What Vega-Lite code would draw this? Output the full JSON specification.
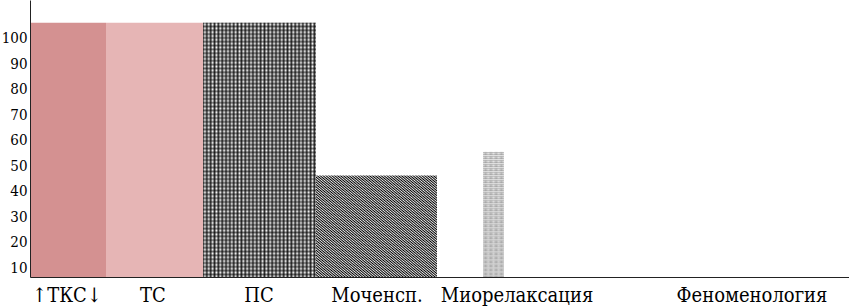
{
"$schema": "https://vega.github.io/schema/vega-lite/v6.json",
"width": 819, "height": 277, "autosize": "none",
"padding": {"left": 30, "top": 0, "right": 0, "bottom": 29},
"background": "white",
"config": {"view": {"stroke": null}},
"data": {"values": [
 {"name": "↑ТКС↓", "value": 106, "start": 1, "end": 76, "labelPos": 37},
 {"name": "ТС", "value": 106, "start": 76, "end": 173, "labelPos": 123},
 {"name": "ПС", "value": 106, "start": 173, "end": 286, "labelPos": 229},
 {"name": "Моченсп.", "value": 46, "start": 286, "end": 407, "labelPos": 347},
 {"name": "Миорелаксация", "value": 55.3, "start": 453, "end": 474, "labelPos": 487},
 {"name": "Феноменология", "value": 0, "start": 700, "end": 700, "labelPos": 722}
]},
"layer": [
{"encoding": {
 "x": {"field": "start", "type": "quantitative", "scale": {"domain": [0, 819], "nice": false, "zero": false, "padding": 0}, "axis": {"labels": false, "ticks": false, "grid": false, "title": null, "domainColor": "#222", "domainWidth": 1}},
 "x2": {"field": "end"},
 "y": {"field": "value", "type": "quantitative", "scale": {"domain": [6.1, 114.9], "nice": false, "zero": false, "clamp": true}, "axis": {"values": [10, 20, 30, 40, 50, 60, 70, 80, 90, 100], "ticks": false, "grid": false, "title": null, "domainColor": "#222", "domainWidth": 1, "labelFont": "DejaVu Serif Condensed, DejaVu Serif", "labelFontSize": 15, "labelColor": "#000", "labelPadding": 3}}
},
"layer": [
 {"transform": [{"filter": {"field": "name", "oneOf": ["↑ТКС↓", "ТС"]}}],
  "mark": {"type": "bar", "orient": "vertical", "stroke": null},
  "encoding": {"color": {"field": "name", "type": "nominal", "scale": {"domain": ["↑ТКС↓", "ТС"], "range": ["#d49191", "#e6b5b5"]}, "legend": null}}},
 {"transform": [{"filter": {"field": "name", "equal": "ПС"}}],
  "mark": {"type": "bar", "orient": "vertical", "stroke": null, "fill": {"gradient": "linear", "x1": 0, "y1": 0, "x2": 1, "y2": 0, "stops": [
   {"offset":0,"color":"#333"},{"offset":0.017,"color":"#fff"},{"offset":0.034,"color":"#333"},{"offset":0.051,"color":"#fff"},{"offset":0.068,"color":"#333"},{"offset":0.085,"color":"#fff"},{"offset":0.102,"color":"#333"},{"offset":0.119,"color":"#fff"},{"offset":0.136,"color":"#333"},{"offset":0.153,"color":"#fff"},{"offset":0.17,"color":"#333"},{"offset":0.187,"color":"#fff"},{"offset":0.204,"color":"#333"},{"offset":0.221,"color":"#fff"},{"offset":0.238,"color":"#333"},{"offset":0.255,"color":"#fff"},{"offset":0.272,"color":"#333"},{"offset":0.289,"color":"#fff"},{"offset":0.306,"color":"#333"},{"offset":0.323,"color":"#fff"},{"offset":0.34,"color":"#333"},{"offset":0.357,"color":"#fff"},{"offset":0.374,"color":"#333"},{"offset":0.391,"color":"#fff"},{"offset":0.408,"color":"#333"},{"offset":0.425,"color":"#fff"},{"offset":0.442,"color":"#333"},{"offset":0.459,"color":"#fff"},{"offset":0.476,"color":"#333"},{"offset":0.493,"color":"#fff"},{"offset":0.51,"color":"#333"},{"offset":0.527,"color":"#fff"},{"offset":0.544,"color":"#333"},{"offset":0.561,"color":"#fff"},{"offset":0.578,"color":"#333"},{"offset":0.595,"color":"#fff"},{"offset":0.612,"color":"#333"},{"offset":0.629,"color":"#fff"},{"offset":0.646,"color":"#333"},{"offset":0.663,"color":"#fff"},{"offset":0.68,"color":"#333"},{"offset":0.697,"color":"#fff"},{"offset":0.714,"color":"#333"},{"offset":0.731,"color":"#fff"},{"offset":0.748,"color":"#333"},{"offset":0.765,"color":"#fff"},{"offset":0.782,"color":"#333"},{"offset":0.799,"color":"#fff"},{"offset":0.816,"color":"#333"},{"offset":0.833,"color":"#fff"},{"offset":0.85,"color":"#333"},{"offset":0.867,"color":"#fff"},{"offset":0.884,"color":"#333"},{"offset":0.901,"color":"#fff"},{"offset":0.918,"color":"#333"},{"offset":0.935,"color":"#fff"},{"offset":0.952,"color":"#333"},{"offset":0.969,"color":"#fff"},{"offset":0.986,"color":"#333"},{"offset":1,"color":"#fff"}
  ]}}},
 {"transform": [{"filter": {"field": "name", "equal": "ПС"}}],
  "mark": {"type": "bar", "orient": "vertical", "stroke": null, "fill": {"gradient": "linear", "x1": 0, "y1": 0, "x2": 0, "y2": 1, "stops": [
   {"offset":0,"color":"rgba(0,0,0,0.55)"},{"offset":0.0075,"color":"transparent"},{"offset":0.015,"color":"rgba(0,0,0,0.55)"},{"offset":0.0225,"color":"transparent"},{"offset":0.03,"color":"rgba(0,0,0,0.55)"},{"offset":0.0375,"color":"transparent"},{"offset":0.045,"color":"rgba(0,0,0,0.55)"},{"offset":0.0525,"color":"transparent"},{"offset":0.06,"color":"rgba(0,0,0,0.55)"},{"offset":0.0675,"color":"transparent"},{"offset":0.075,"color":"rgba(0,0,0,0.55)"},{"offset":0.0825,"color":"transparent"},{"offset":0.09,"color":"rgba(0,0,0,0.55)"},{"offset":0.0975,"color":"transparent"},{"offset":0.105,"color":"rgba(0,0,0,0.55)"},{"offset":0.1125,"color":"transparent"},{"offset":0.12,"color":"rgba(0,0,0,0.55)"},{"offset":0.1275,"color":"transparent"},{"offset":0.135,"color":"rgba(0,0,0,0.55)"},{"offset":0.1425,"color":"transparent"},{"offset":0.15,"color":"rgba(0,0,0,0.55)"},{"offset":0.1575,"color":"transparent"},{"offset":0.165,"color":"rgba(0,0,0,0.55)"},{"offset":0.1725,"color":"transparent"},{"offset":0.18,"color":"rgba(0,0,0,0.55)"},{"offset":0.1875,"color":"transparent"},{"offset":0.195,"color":"rgba(0,0,0,0.55)"},{"offset":0.2025,"color":"transparent"},{"offset":0.21,"color":"rgba(0,0,0,0.55)"},{"offset":0.2175,"color":"transparent"},{"offset":0.225,"color":"rgba(0,0,0,0.55)"},{"offset":0.2325,"color":"transparent"},{"offset":0.24,"color":"rgba(0,0,0,0.55)"},{"offset":0.2475,"color":"transparent"},{"offset":0.255,"color":"rgba(0,0,0,0.55)"},{"offset":0.2625,"color":"transparent"},{"offset":0.27,"color":"rgba(0,0,0,0.55)"},{"offset":0.2775,"color":"transparent"},{"offset":0.285,"color":"rgba(0,0,0,0.55)"},{"offset":0.2925,"color":"transparent"},{"offset":0.3,"color":"rgba(0,0,0,0.55)"},{"offset":0.3075,"color":"transparent"},{"offset":0.315,"color":"rgba(0,0,0,0.55)"},{"offset":0.3225,"color":"transparent"},{"offset":0.33,"color":"rgba(0,0,0,0.55)"},{"offset":0.3375,"color":"transparent"},{"offset":0.345,"color":"rgba(0,0,0,0.55)"},{"offset":0.3525,"color":"transparent"},{"offset":0.36,"color":"rgba(0,0,0,0.55)"},{"offset":0.3675,"color":"transparent"},{"offset":0.375,"color":"rgba(0,0,0,0.55)"},{"offset":0.3825,"color":"transparent"},{"offset":0.39,"color":"rgba(0,0,0,0.55)"},{"offset":0.3975,"color":"transparent"},{"offset":0.405,"color":"rgba(0,0,0,0.55)"},{"offset":0.4125,"color":"transparent"},{"offset":0.42,"color":"rgba(0,0,0,0.55)"},{"offset":0.4275,"color":"transparent"},{"offset":0.435,"color":"rgba(0,0,0,0.55)"},{"offset":0.4425,"color":"transparent"},{"offset":0.45,"color":"rgba(0,0,0,0.55)"},{"offset":0.4575,"color":"transparent"},{"offset":0.465,"color":"rgba(0,0,0,0.55)"},{"offset":0.4725,"color":"transparent"},{"offset":0.48,"color":"rgba(0,0,0,0.55)"},{"offset":0.4875,"color":"transparent"},{"offset":0.495,"color":"rgba(0,0,0,0.55)"},{"offset":0.5025,"color":"transparent"},{"offset":0.51,"color":"rgba(0,0,0,0.55)"},{"offset":0.5175,"color":"transparent"},{"offset":0.525,"color":"rgba(0,0,0,0.55)"},{"offset":0.5325,"color":"transparent"},{"offset":0.54,"color":"rgba(0,0,0,0.55)"},{"offset":0.5475,"color":"transparent"},{"offset":0.555,"color":"rgba(0,0,0,0.55)"},{"offset":0.5625,"color":"transparent"},{"offset":0.57,"color":"rgba(0,0,0,0.55)"},{"offset":0.5775,"color":"transparent"},{"offset":0.585,"color":"rgba(0,0,0,0.55)"},{"offset":0.5925,"color":"transparent"},{"offset":0.6,"color":"rgba(0,0,0,0.55)"},{"offset":0.6075,"color":"transparent"},{"offset":0.615,"color":"rgba(0,0,0,0.55)"},{"offset":0.6225,"color":"transparent"},{"offset":0.63,"color":"rgba(0,0,0,0.55)"},{"offset":0.6375,"color":"transparent"},{"offset":0.645,"color":"rgba(0,0,0,0.55)"},{"offset":0.6525,"color":"transparent"},{"offset":0.66,"color":"rgba(0,0,0,0.55)"},{"offset":0.6675,"color":"transparent"},{"offset":0.675,"color":"rgba(0,0,0,0.55)"},{"offset":0.6825,"color":"transparent"},{"offset":0.69,"color":"rgba(0,0,0,0.55)"},{"offset":0.6975,"color":"transparent"},{"offset":0.705,"color":"rgba(0,0,0,0.55)"},{"offset":0.7125,"color":"transparent"},{"offset":0.72,"color":"rgba(0,0,0,0.55)"},{"offset":0.7275,"color":"transparent"},{"offset":0.735,"color":"rgba(0,0,0,0.55)"},{"offset":0.7425,"color":"transparent"},{"offset":0.75,"color":"rgba(0,0,0,0.55)"},{"offset":0.7575,"color":"transparent"},{"offset":0.765,"color":"rgba(0,0,0,0.55)"},{"offset":0.7725,"color":"transparent"},{"offset":0.78,"color":"rgba(0,0,0,0.55)"},{"offset":0.7875,"color":"transparent"},{"offset":0.795,"color":"rgba(0,0,0,0.55)"},{"offset":0.8025,"color":"transparent"},{"offset":0.81,"color":"rgba(0,0,0,0.55)"},{"offset":0.8175,"color":"transparent"},{"offset":0.825,"color":"rgba(0,0,0,0.55)"},{"offset":0.8325,"color":"transparent"},{"offset":0.84,"color":"rgba(0,0,0,0.55)"},{"offset":0.8475,"color":"transparent"},{"offset":0.855,"color":"rgba(0,0,0,0.55)"},{"offset":0.8625,"color":"transparent"},{"offset":0.87,"color":"rgba(0,0,0,0.55)"},{"offset":0.8775,"color":"transparent"},{"offset":0.885,"color":"rgba(0,0,0,0.55)"},{"offset":0.8925,"color":"transparent"},{"offset":0.9,"color":"rgba(0,0,0,0.55)"},{"offset":0.9075,"color":"transparent"},{"offset":0.915,"color":"rgba(0,0,0,0.55)"},{"offset":0.9225,"color":"transparent"},{"offset":0.93,"color":"rgba(0,0,0,0.55)"},{"offset":0.9375,"color":"transparent"},{"offset":0.945,"color":"rgba(0,0,0,0.55)"},{"offset":0.9525,"color":"transparent"},{"offset":0.96,"color":"rgba(0,0,0,0.55)"},{"offset":0.9675,"color":"transparent"},{"offset":0.975,"color":"rgba(0,0,0,0.55)"},{"offset":0.9825,"color":"transparent"},{"offset":0.99,"color":"rgba(0,0,0,0.55)"},{"offset":0.9975,"color":"transparent"},{"offset":1,"color":"rgba(0,0,0,0.55)"}
  ]}}},
 {"transform": [{"filter": {"field": "name", "equal": "Моченсп."}}],
  "mark": {"type": "bar", "orient": "vertical", "stroke": null, "fill": {"gradient": "linear", "x1": 0, "y1": 1, "x2": 1, "y2": 0, "stops": [
   {"offset":0,"color":"#000"},{"offset":0.006,"color":"#e6e6e6"},{"offset":0.012,"color":"#000"},{"offset":0.018,"color":"#e6e6e6"},{"offset":0.024,"color":"#000"},{"offset":0.03,"color":"#e6e6e6"},{"offset":0.036,"color":"#000"},{"offset":0.042,"color":"#e6e6e6"},{"offset":0.048,"color":"#000"},{"offset":0.054,"color":"#e6e6e6"},{"offset":0.06,"color":"#000"},{"offset":0.066,"color":"#e6e6e6"},{"offset":0.072,"color":"#000"},{"offset":0.078,"color":"#e6e6e6"},{"offset":0.084,"color":"#000"},{"offset":0.09,"color":"#e6e6e6"},{"offset":0.096,"color":"#000"},{"offset":0.102,"color":"#e6e6e6"},{"offset":0.108,"color":"#000"},{"offset":0.114,"color":"#e6e6e6"},{"offset":0.12,"color":"#000"},{"offset":0.126,"color":"#e6e6e6"},{"offset":0.132,"color":"#000"},{"offset":0.138,"color":"#e6e6e6"},{"offset":0.144,"color":"#000"},{"offset":0.15,"color":"#e6e6e6"},{"offset":0.156,"color":"#000"},{"offset":0.162,"color":"#e6e6e6"},{"offset":0.168,"color":"#000"},{"offset":0.174,"color":"#e6e6e6"},{"offset":0.18,"color":"#000"},{"offset":0.186,"color":"#e6e6e6"},{"offset":0.192,"color":"#000"},{"offset":0.198,"color":"#e6e6e6"},{"offset":0.204,"color":"#000"},{"offset":0.21,"color":"#e6e6e6"},{"offset":0.216,"color":"#000"},{"offset":0.222,"color":"#e6e6e6"},{"offset":0.228,"color":"#000"},{"offset":0.234,"color":"#e6e6e6"},{"offset":0.24,"color":"#000"},{"offset":0.246,"color":"#e6e6e6"},{"offset":0.252,"color":"#000"},{"offset":0.258,"color":"#e6e6e6"},{"offset":0.264,"color":"#000"},{"offset":0.27,"color":"#e6e6e6"},{"offset":0.276,"color":"#000"},{"offset":0.282,"color":"#e6e6e6"},{"offset":0.288,"color":"#000"},{"offset":0.294,"color":"#e6e6e6"},{"offset":0.3,"color":"#000"},{"offset":0.306,"color":"#e6e6e6"},{"offset":0.312,"color":"#000"},{"offset":0.318,"color":"#e6e6e6"},{"offset":0.324,"color":"#000"},{"offset":0.33,"color":"#e6e6e6"},{"offset":0.336,"color":"#000"},{"offset":0.342,"color":"#e6e6e6"},{"offset":0.348,"color":"#000"},{"offset":0.354,"color":"#e6e6e6"},{"offset":0.36,"color":"#000"},{"offset":0.366,"color":"#e6e6e6"},{"offset":0.372,"color":"#000"},{"offset":0.378,"color":"#e6e6e6"},{"offset":0.384,"color":"#000"},{"offset":0.39,"color":"#e6e6e6"},{"offset":0.396,"color":"#000"},{"offset":0.402,"color":"#e6e6e6"},{"offset":0.408,"color":"#000"},{"offset":0.414,"color":"#e6e6e6"},{"offset":0.42,"color":"#000"},{"offset":0.426,"color":"#e6e6e6"},{"offset":0.432,"color":"#000"},{"offset":0.438,"color":"#e6e6e6"},{"offset":0.444,"color":"#000"},{"offset":0.45,"color":"#e6e6e6"},{"offset":0.456,"color":"#000"},{"offset":0.462,"color":"#e6e6e6"},{"offset":0.468,"color":"#000"},{"offset":0.474,"color":"#e6e6e6"},{"offset":0.48,"color":"#000"},{"offset":0.486,"color":"#e6e6e6"},{"offset":0.492,"color":"#000"},{"offset":0.498,"color":"#e6e6e6"},{"offset":0.504,"color":"#000"},{"offset":0.51,"color":"#e6e6e6"},{"offset":0.516,"color":"#000"},{"offset":0.522,"color":"#e6e6e6"},{"offset":0.528,"color":"#000"},{"offset":0.534,"color":"#e6e6e6"},{"offset":0.54,"color":"#000"},{"offset":0.546,"color":"#e6e6e6"},{"offset":0.552,"color":"#000"},{"offset":0.558,"color":"#e6e6e6"},{"offset":0.564,"color":"#000"},{"offset":0.57,"color":"#e6e6e6"},{"offset":0.576,"color":"#000"},{"offset":0.582,"color":"#e6e6e6"},{"offset":0.588,"color":"#000"},{"offset":0.594,"color":"#e6e6e6"},{"offset":0.6,"color":"#000"},{"offset":0.606,"color":"#e6e6e6"},{"offset":0.612,"color":"#000"},{"offset":0.618,"color":"#e6e6e6"},{"offset":0.624,"color":"#000"},{"offset":0.63,"color":"#e6e6e6"},{"offset":0.636,"color":"#000"},{"offset":0.642,"color":"#e6e6e6"},{"offset":0.648,"color":"#000"},{"offset":0.654,"color":"#e6e6e6"},{"offset":0.66,"color":"#000"},{"offset":0.666,"color":"#e6e6e6"},{"offset":0.672,"color":"#000"},{"offset":0.678,"color":"#e6e6e6"},{"offset":0.684,"color":"#000"},{"offset":0.69,"color":"#e6e6e6"},{"offset":0.696,"color":"#000"},{"offset":0.702,"color":"#e6e6e6"},{"offset":0.708,"color":"#000"},{"offset":0.714,"color":"#e6e6e6"},{"offset":0.72,"color":"#000"},{"offset":0.726,"color":"#e6e6e6"},{"offset":0.732,"color":"#000"},{"offset":0.738,"color":"#e6e6e6"},{"offset":0.744,"color":"#000"},{"offset":0.75,"color":"#e6e6e6"},{"offset":0.756,"color":"#000"},{"offset":0.762,"color":"#e6e6e6"},{"offset":0.768,"color":"#000"},{"offset":0.774,"color":"#e6e6e6"},{"offset":0.78,"color":"#000"},{"offset":0.786,"color":"#e6e6e6"},{"offset":0.792,"color":"#000"},{"offset":0.798,"color":"#e6e6e6"},{"offset":0.804,"color":"#000"},{"offset":0.81,"color":"#e6e6e6"},{"offset":0.816,"color":"#000"},{"offset":0.822,"color":"#e6e6e6"},{"offset":0.828,"color":"#000"},{"offset":0.834,"color":"#e6e6e6"},{"offset":0.84,"color":"#000"},{"offset":0.846,"color":"#e6e6e6"},{"offset":0.852,"color":"#000"},{"offset":0.858,"color":"#e6e6e6"},{"offset":0.864,"color":"#000"},{"offset":0.87,"color":"#e6e6e6"},{"offset":0.876,"color":"#000"},{"offset":0.882,"color":"#e6e6e6"},{"offset":0.888,"color":"#000"},{"offset":0.894,"color":"#e6e6e6"},{"offset":0.9,"color":"#000"},{"offset":0.906,"color":"#e6e6e6"},{"offset":0.912,"color":"#000"},{"offset":0.918,"color":"#e6e6e6"},{"offset":0.924,"color":"#000"},{"offset":0.93,"color":"#e6e6e6"},{"offset":0.936,"color":"#000"},{"offset":0.942,"color":"#e6e6e6"},{"offset":0.948,"color":"#000"},{"offset":0.954,"color":"#e6e6e6"},{"offset":0.96,"color":"#000"},{"offset":0.966,"color":"#e6e6e6"},{"offset":0.972,"color":"#000"},{"offset":0.978,"color":"#e6e6e6"},{"offset":0.984,"color":"#000"},{"offset":0.99,"color":"#e6e6e6"},{"offset":0.996,"color":"#000"},{"offset":1,"color":"#e6e6e6"}
  ]}}},
 {"transform": [{"filter": {"field": "name", "equal": "Миорелаксация"}}],
  "mark": {"type": "bar", "orient": "vertical", "stroke": null, "fill": {"gradient": "linear", "x1": 0, "y1": 0, "x2": 1, "y2": 0, "stops": [
   {"offset":0,"color":"#fff"},{"offset":0.125,"color":"#d0d0d0"},{"offset":0.25,"color":"#fff"},{"offset":0.375,"color":"#d0d0d0"},{"offset":0.5,"color":"#fff"},{"offset":0.625,"color":"#d0d0d0"},{"offset":0.75,"color":"#fff"},{"offset":0.875,"color":"#d0d0d0"},{"offset":1,"color":"#fff"}
  ]}}},
 {"transform": [{"filter": {"field": "name", "equal": "Миорелаксация"}}],
  "mark": {"type": "bar", "orient": "vertical", "stroke": null, "fill": {"gradient": "linear", "x1": 0, "y1": 0, "x2": 0, "y2": 1, "stops": [
   {"offset":0,"color":"#fff"},{"offset":0.016,"color":"transparent"},{"offset":0.032,"color":"#fff"},{"offset":0.048,"color":"transparent"},{"offset":0.064,"color":"#fff"},{"offset":0.08,"color":"transparent"},{"offset":0.096,"color":"#fff"},{"offset":0.112,"color":"transparent"},{"offset":0.128,"color":"#fff"},{"offset":0.144,"color":"transparent"},{"offset":0.16,"color":"#fff"},{"offset":0.176,"color":"transparent"},{"offset":0.192,"color":"#fff"},{"offset":0.208,"color":"transparent"},{"offset":0.224,"color":"#fff"},{"offset":0.24,"color":"transparent"},{"offset":0.256,"color":"#fff"},{"offset":0.272,"color":"transparent"},{"offset":0.288,"color":"#fff"},{"offset":0.304,"color":"transparent"},{"offset":0.32,"color":"#fff"},{"offset":0.336,"color":"transparent"},{"offset":0.352,"color":"#fff"},{"offset":0.368,"color":"transparent"},{"offset":0.384,"color":"#fff"},{"offset":0.4,"color":"transparent"},{"offset":0.416,"color":"#fff"},{"offset":0.432,"color":"transparent"},{"offset":0.448,"color":"#fff"},{"offset":0.464,"color":"transparent"},{"offset":0.48,"color":"#fff"},{"offset":0.496,"color":"transparent"},{"offset":0.512,"color":"#fff"},{"offset":0.528,"color":"transparent"},{"offset":0.544,"color":"#fff"},{"offset":0.56,"color":"transparent"},{"offset":0.576,"color":"#fff"},{"offset":0.592,"color":"transparent"},{"offset":0.608,"color":"#fff"},{"offset":0.624,"color":"transparent"},{"offset":0.64,"color":"#fff"},{"offset":0.656,"color":"transparent"},{"offset":0.672,"color":"#fff"},{"offset":0.688,"color":"transparent"},{"offset":0.704,"color":"#fff"},{"offset":0.72,"color":"transparent"},{"offset":0.736,"color":"#fff"},{"offset":0.752,"color":"transparent"},{"offset":0.768,"color":"#fff"},{"offset":0.784,"color":"transparent"},{"offset":0.8,"color":"#fff"},{"offset":0.816,"color":"transparent"},{"offset":0.832,"color":"#fff"},{"offset":0.848,"color":"transparent"},{"offset":0.864,"color":"#fff"},{"offset":0.88,"color":"transparent"},{"offset":0.896,"color":"#fff"},{"offset":0.912,"color":"transparent"},{"offset":0.928,"color":"#fff"},{"offset":0.944,"color":"transparent"},{"offset":0.96,"color":"#fff"},{"offset":0.976,"color":"transparent"},{"offset":0.992,"color":"#fff"},{"offset":1,"color":"transparent"}
  ]}}}
]},
 {"mark": {"type": "text", "font": "DejaVu Serif Condensed, DejaVu Serif", "fontSize": 20, "color": "#000", "baseline": "alphabetic", "align": "center", "dy": 25},
  "encoding": {
   "x": {"field": "labelPos", "type": "quantitative", "axis": {"labels": false, "ticks": false, "grid": false, "title": null, "domainColor": "#222", "domainWidth": 1}},
   "y": {"datum": 0, "type": "quantitative", "axis": {"values": [10, 20, 30, 40, 50, 60, 70, 80, 90, 100], "ticks": false, "grid": false, "title": null, "domainColor": "#222", "domainWidth": 1, "labelFont": "DejaVu Serif Condensed, DejaVu Serif", "labelFontSize": 15, "labelColor": "#000", "labelPadding": 3}},
   "text": {"field": "name", "type": "nominal"}
  }}
]
}
